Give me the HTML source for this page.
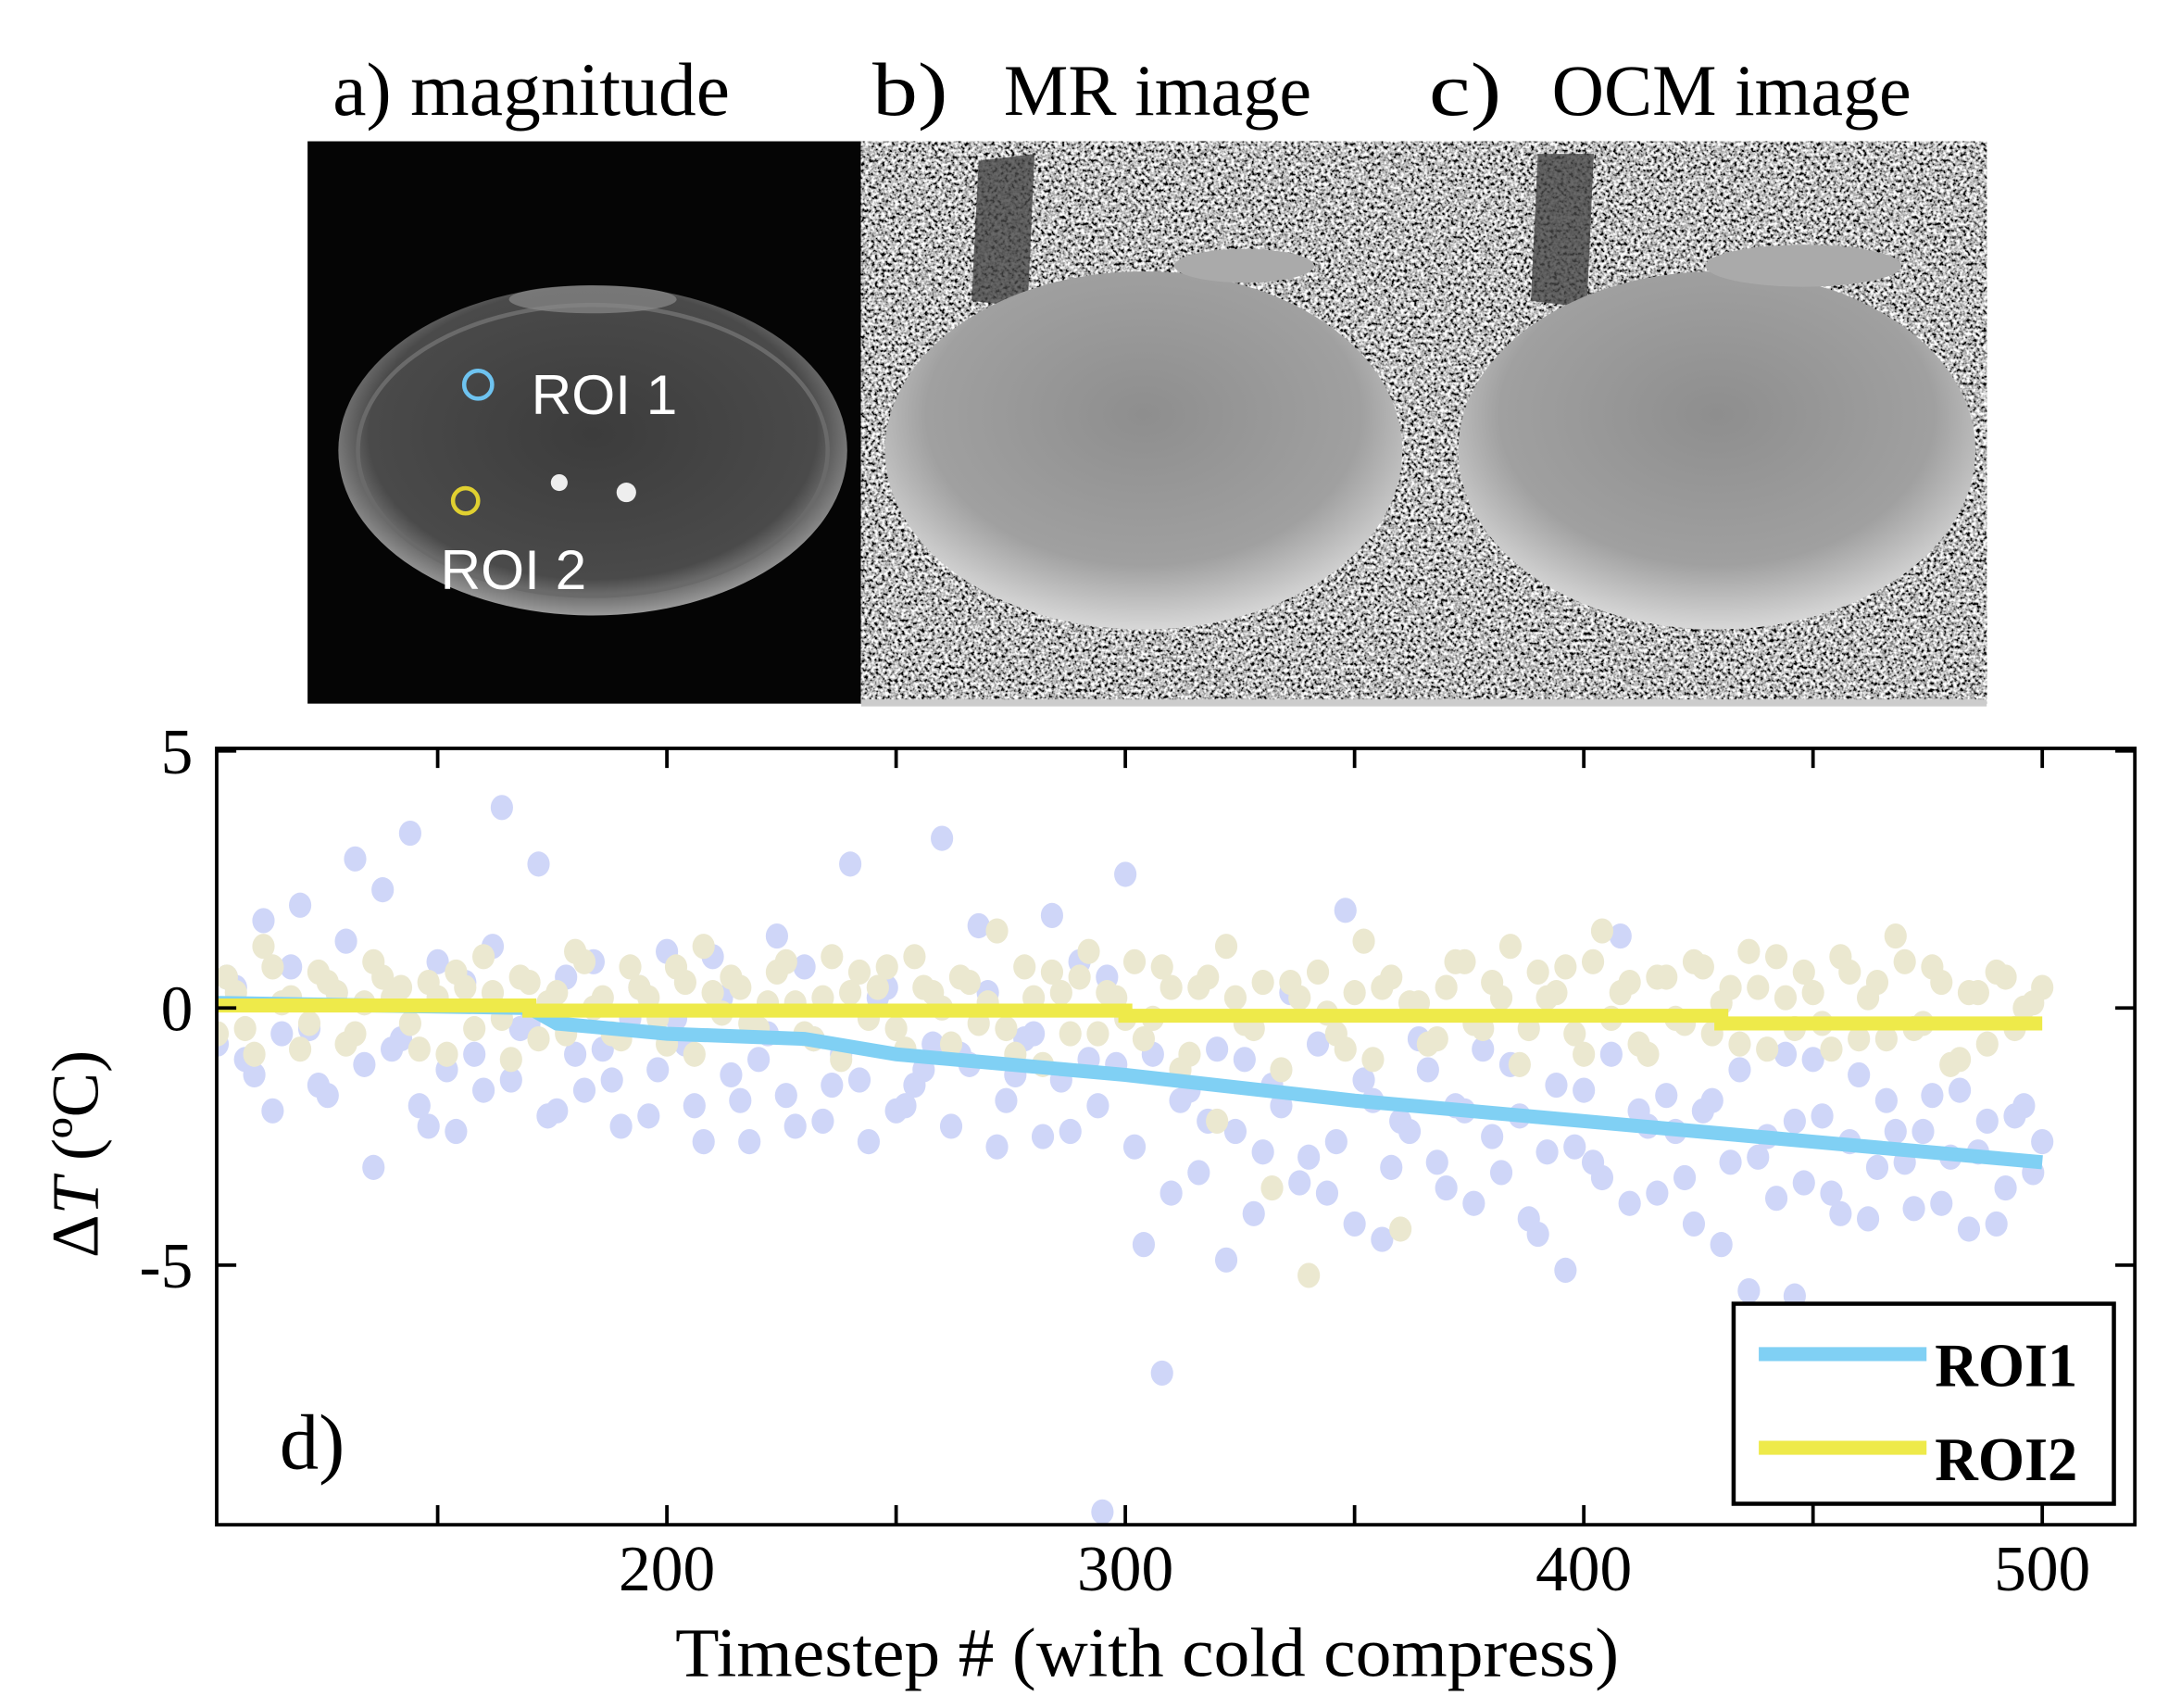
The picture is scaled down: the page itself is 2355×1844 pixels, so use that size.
<!DOCTYPE html>
<html><head><meta charset="utf-8"><style>
html,body{margin:0;padding:0;background:#fff;}
svg{display:block;}
text{font-family:"Liberation Serif",serif;}
</style></head>
<body>
<svg id="fig" width="2355" height="1844" viewBox="0 0 1560 1221" preserveAspectRatio="none" xmlns="http://www.w3.org/2000/svg">
<defs>
<filter id="salt" x="0" y="0" width="100%" height="100%">
<feTurbulence type="fractalNoise" baseFrequency="0.42" numOctaves="2" seed="7"/>
<feColorMatrix type="matrix" values="2.6 0 0 0 -0.8  2.6 0 0 0 -0.8  2.6 0 0 0 -0.8  0 0 0 0 1"/>
</filter>
<radialGradient id="bodyA" cx="50%" cy="45%" r="55%">
<stop offset="0" stop-color="#3c3c3c"/><stop offset="0.8" stop-color="#4a4a4a"/><stop offset="1" stop-color="#9a9a9a"/>
</radialGradient>
<radialGradient id="bodyB" cx="50%" cy="40%" r="60%">
<stop offset="0" stop-color="#8e8e8e"/><stop offset="0.7" stop-color="#a0a0a0"/><stop offset="1" stop-color="#d8d8d8"/>
</radialGradient>
</defs>

<!-- panel titles -->
<text x="238" y="82" font-size="54" textLength="284" lengthAdjust="spacingAndGlyphs">a) magnitude</text>
<text x="624" y="82" font-size="54" textLength="54" lengthAdjust="spacingAndGlyphs">b)</text>
<text x="718" y="82" font-size="52" textLength="220" lengthAdjust="spacingAndGlyphs">MR image</text>
<text x="1022" y="82" font-size="54" textLength="52" lengthAdjust="spacingAndGlyphs">c)</text>
<text x="1110" y="82" font-size="52" textLength="257" lengthAdjust="spacingAndGlyphs">OCM image</text>

<!-- panel a -->
<g>
<rect x="220" y="101" width="396" height="402" fill="#050505"/>
<ellipse cx="424" cy="322" rx="182" ry="118" fill="url(#bodyA)"/>
<ellipse cx="424" cy="322" rx="168" ry="104" fill="none" stroke="#6a6a6a" stroke-width="3"/>
<ellipse cx="424" cy="214" rx="60" ry="10" fill="#8a8a8a" opacity="0.7"/>
<circle cx="400" cy="345" r="6" fill="#eee"/><circle cx="448" cy="352" r="7" fill="#eee"/>
<circle cx="342" cy="275" r="10" fill="none" stroke="#6ec3f0" stroke-width="3"/>
<circle cx="333" cy="358" r="9" fill="none" stroke="#e0d030" stroke-width="3"/>
<text x="380" y="296" font-size="40" fill="#fff" style="font-family:'Liberation Sans',sans-serif">ROI 1</text>
<text x="315" y="421" font-size="40" fill="#fff" style="font-family:'Liberation Sans',sans-serif">ROI 2</text>
</g>

<!-- panels b, c -->
<g>
<rect x="616" y="101" width="805" height="402" fill="#888"/>
<rect x="616" y="101" width="805" height="402" filter="url(#salt)"/>
<rect x="616" y="500" width="805" height="5" fill="#ccc"/>
<path d="M695 215 L700 115 L740 110 L735 220 Z" fill="#444" opacity="0.8"/>
<path d="M1095 215 L1100 110 L1140 110 L1135 220 Z" fill="#444" opacity="0.8"/>
<ellipse cx="818" cy="322" rx="185" ry="128" fill="url(#bodyB)"/>
<ellipse cx="1228" cy="322" rx="185" ry="128" fill="url(#bodyB)"/>
<ellipse cx="890" cy="190" rx="50" ry="12" fill="#aaa"/>
<ellipse cx="1290" cy="190" rx="70" ry="15" fill="#aaa"/>
</g>

<g id="chart"></g>
</svg>

<script>
const yTicks = [5, 0, -5];
const yTickLabels = ["5", "0", "-5"];
const xTicks = [150, 200, 250, 300, 350, 400, 450, 500];
const xTickLabels = ["", "200", "", "300", "", "400", "", "500"];

const roi1A = [0.6,-1.0,1.7,-0.5,2.0,-1.5,0.3,2.9,-3.1,-0.8,
3.4,-2.3,-1.2,0.5,-1.6,3.9,-0.4,2.8,-2.0,-0.9,
0.9,-1.4,-0.2,-2.1,1.1,-0.7,-2.6,0.2,-1.8,-1.0,
1.4,-2.3,-0.6,-1.5,2.8,-2.6,0.4,-1.9,-1.2,3.3,
-0.9,1.6,-2.7,-1.3,-0.5,1.8,-2.4,-1.0,0.6,2.6,
-4.6,-7.1,-1.8,-3.2,-0.8,-2.4,-4.0,-1.5,0.3,-2.9,
-3.6,1.9,-1.4,-4.5,-2.2,-0.6,-3.0,-1.9,-3.8,-2.5,
-1.1,-4.1,-2.8,-5.1,-1.6,-3.3,1.4,-2.0,-3.6,-2.4,
-4.2,-1.8,-3.0,-5.5,-2.5,-0.9,-3.4,-2.1,-4.0,-1.3,
-3.1,-2.4,-3.9,-1.7,-2.9,-4.3,-2.2,-3.5,-1.9,-2.6];
const roi1B = [-0.7,0.4,-1.3,-2.0,0.8,-0.4,-1.7,1.3,-1.1,2.3,
-0.6,-1.9,0.9,-2.4,-0.9,1.2,-1.4,-0.3,-2.1,0.6,
-1.6,-0.8,-2.3,0.4,-1.2,-0.2,-1.9,1.0,-1.3,-2.6,
-0.5,-1.7,0.8,-2.2,-0.9,-1.4,0.2,-2.0,-1.5,-0.7,
-2.3,-1.1,0.3,-1.8,-0.6,-2.5,-1.4,0.9,-1.9,-1.1,
-2.7,-0.9,-3.6,-1.6,-2.2,-4.9,-1.0,-2.8,-1.9,-3.4,
-0.7,-2.6,-4.2,-1.8,-3.1,-2.4,-1.2,-3.5,-2.0,-0.8,
-3.2,-2.1,-4.4,-1.5,-2.7,-3.0,-0.9,-3.8,-2.3,-1.7,
-3.3,-2.0,-4.6,-1.2,-2.9,-3.7,-2.2,-1.0,-3.6,-2.6,
-4.1,-1.8,-3.0,-2.4,-3.8,-1.6,-2.8,-4.2,-2.1,-3.2];
const roi1OutX = [295, 446];
const roi1OutY = [-9.8, -5.6];
const roi2A = [0.6,-0.4,1.2,0.1,-0.8,0.7,0.3,-0.5,0.9,0.2,
-0.3,0.5,-0.9,0.4,1.0,-0.2,0.6,-0.6,0.3,1.1,
0.0,-0.5,0.8,0.2,-0.7,0.5,1.2,-0.1,0.4,-0.4,
0.7,0.1,-0.6,1.0,0.3,-0.2,0.8,-0.8,0.4,0.0,
0.6,-0.3,1.5,-0.9,0.2,0.7,-0.5,1.1,0.3,-0.2,
-0.6,0.8,-1.2,0.4,-2.2,0.2,-0.4,-3.5,0.5,-5.2,
-0.1,-0.8,1.3,0.4,-4.3,0.1,-0.6,0.9,-0.3,0.5,
1.2,-0.4,0.2,0.8,-0.9,1.5,0.3,-0.7,0.6,-0.2,
0.9,-0.5,0.4,1.1,-0.8,0.2,0.7,-0.3,1.0,-0.6,
0.5,1.4,-0.4,0.8,-1.1,0.3,-0.7,0.6,0.0,0.4];
const roi2B = [-0.5,0.3,-0.9,0.8,0.2,-0.3,0.5,-0.7,0.1,0.6,
0.4,-0.8,0.2,0.7,-0.4,0.3,-1.0,0.5,0.1,-0.5,
0.9,0.2,-0.6,0.4,-0.2,0.8,-0.9,0.3,0.6,-0.3,
0.1,0.9,-0.5,0.2,-1.0,0.7,0.4,-0.4,1.0,0.3,
-0.7,0.5,0.1,-0.4,0.8,-1.1,0.3,0.6,-0.5,0.2,
0.9,-0.2,0.4,-0.9,0.6,1.2,-0.3,0.5,-1.2,0.2,
0.7,-0.5,0.3,-1.0,0.6,0.1,-0.7,0.4,0.9,-0.4,
0.2,-1.1,0.7,0.3,-0.5,0.9,-0.2,0.5,-0.9,0.6,
-0.3,0.8,0.1,-0.7,0.4,1.0,-0.4,0.3,-0.8,0.7,
0.2,-0.6,0.9,-0.3,0.5,-1.0,0.3,0.7,-0.4,0.1];
const roi1FitX = [102,170,176,200,230,250,300,350,400,450,500];
const roi1FitY = [0.1,0.0,-0.3,-0.5,-0.6,-0.9,-1.3,-1.8,-2.2,-2.6,-3.0];
const roi2FitX = [102,170,170,300,300,430,430,500];
const roi2FitY = [0.05,0.05,-0.05,-0.05,-0.15,-0.15,-0.3,-0.3];

const L = 155, R = 1527, T = 535, B = 1090;
const xMin = 101.8, xMax = 520.2, yMin = -10.05, yMax = 5.05;
function sx(v){ return L + (v - xMin) / (xMax - xMin) * (R - L); }
function sy(v){ return B - (v - yMin) / (yMax - yMin) * (B - T); }

const NS = "http://www.w3.org/2000/svg";
const chart = document.getElementById("chart");
function mk(tag, attrs, parent){
  const e = document.createElementNS(NS, tag);
  for (const k in attrs) e.setAttribute(k, attrs[k]);
  (parent || chart).appendChild(e);
  return e;
}
const clipDef = mk("clipPath", {id:"plotclip"});
mk("rect", {x:L, y:T, width:R-L, height:B-T}, clipDef);
const plot = mk("g", {"clip-path":"url(#plotclip)"});



function dots(xs, ys, color, name){
  for (let i = 0; i < ys.length; i++){
    const c = mk("ellipse", {cx:sx(xs[i]), cy:sy(ys[i]), rx:8, ry:9, fill:color}, plot);
    
    
  }
}
const xsA = roi1A.map((_, i) => 104 + 4 * i);
const xsB = roi1B.map((_, i) => 102 + 4 * i);
dots(xsA, roi1A, "#cfd6f8", "roi1-point");
dots(xsB, roi1B, "#cfd6f8", "roi1-point");
dots(roi1OutX, roi1OutY, "#cfd6f8", "roi1-point");
dots(xsA, roi2A, "#ebe8d0", "roi2-point");
dots(xsB, roi2B, "#ebe8d0", "roi2-point");

function line(xs, ys, color, name){
  const p = mk("polyline", {points: xs.map((x, i) => sx(x) + "," + sy(ys[i])).join(" "), fill:"none", stroke:color, "stroke-width":10}, plot);
  
  
}
line(roi1FitX, roi1FitY, "#80d0f4", "roi1-fit-line");
line(roi2FitX, roi2FitY, "#eeea4a", "roi2-fit-line");

const box = mk("rect", {x:L, y:T, width:R-L, height:B-T, fill:"none", stroke:"#000", "stroke-width":2.5});



xTicks.forEach((v, i) => {
  mk("line", {x1:sx(v), x2:sx(v), y1:B, y2:B-14, stroke:"#000", "stroke-width":2.5});
  mk("line", {x1:sx(v), x2:sx(v), y1:T, y2:T+14, stroke:"#000", "stroke-width":2.5});
  if (xTickLabels[i]){
    const t = mk("text", {x:sx(v), y:1137, "font-size":46, "text-anchor":"middle"});
    t.textContent = xTickLabels[i];
    
    
  }
});
yTicks.forEach((v, i) => {
  mk("line", {x1:L, x2:L+14, y1:sy(v), y2:sy(v), stroke:"#000", "stroke-width":2.5});
  mk("line", {x1:R, x2:R-14, y1:sy(v), y2:sy(v), stroke:"#000", "stroke-width":2.5});
  const t = mk("text", {x:138, y:sy(v)+16, "font-size":46, "text-anchor":"end"});
  t.textContent = yTickLabels[i];
  
  
});

const xt = mk("text", {x:483, y:1198, "font-size":50, textLength:675, lengthAdjust:"spacingAndGlyphs"});
xt.textContent = "Timestep # (with cold compress)";



const yt = mk("text", {x:0, y:0, "font-size":48, "text-anchor":"middle", transform:"translate(70,825) rotate(-90)"});
yt.innerHTML = "Δ<tspan font-style=\"italic\">T</tspan> (ºC)";



const dl = mk("text", {x:200, y:1050, "font-size":56});
dl.textContent = "d)";



const lg = mk("g", {});


mk("rect", {x:1240, y:932, width:272, height:143, fill:"#fff", stroke:"#000", "stroke-width":3}, lg);
const le1 = mk("line", {x1:1258, x2:1378, y1:968, y2:968, stroke:"#80d0f4", "stroke-width":10}, lg);


const le2 = mk("line", {x1:1258, x2:1378, y1:1035, y2:1035, stroke:"#eeea4a", "stroke-width":10}, lg);


const lt1 = mk("text", {x:1384, y:991, "font-size":44, "font-weight":"bold", textLength:102, lengthAdjust:"spacingAndGlyphs"}, lg);
lt1.textContent = "ROI1";


const lt2 = mk("text", {x:1384, y:1058, "font-size":44, "font-weight":"bold", textLength:102, lengthAdjust:"spacingAndGlyphs"}, lg);
lt2.textContent = "ROI2";


</script>
</body></html>
